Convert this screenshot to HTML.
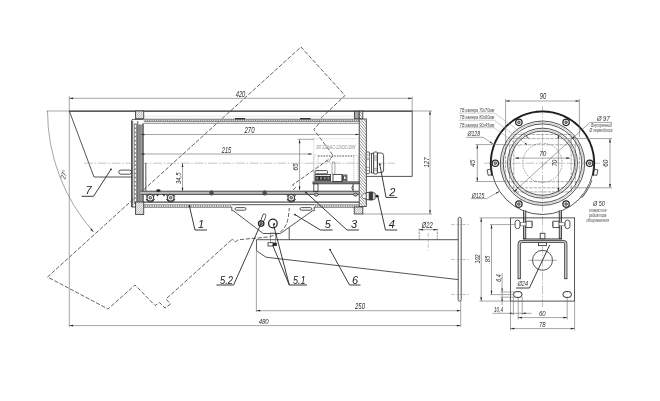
<!DOCTYPE html>
<html><head><meta charset="utf-8"><title>drawing</title>
<style>
html,body{margin:0;padding:0;background:#fff;}
svg{display:block;will-change:transform}
.t{stroke:#6a6a6a;stroke-width:.6;fill:none}
.vl{stroke:#d0d0d0;stroke-width:.5;fill:none}
.rd{stroke:#6a6a6a;stroke-width:.55;stroke-dasharray:3.5 1;fill:none}
.cd{stroke:#666;stroke-width:.6;stroke-dasharray:1.6 1;fill:none}
.tl{stroke:#9a9a9a;stroke-width:.5;fill:none}
.m{stroke:#363636;stroke-width:.85;fill:none}
.ld{stroke:#262626;stroke-width:.9;fill:none}
.m2{stroke:#2a2a2a;stroke-width:1;fill:none}
.wd{stroke:#fff;stroke-width:1.1;stroke-dasharray:1.3 .9;fill:none}
.wd2{stroke:#fff;stroke-width:1.5;stroke-dasharray:1.4 .9;fill:none}
.t2{stroke:#5a5a5a;stroke-width:.7;fill:none}
.k3{stroke:#444;stroke-width:1.2;fill:none}
.k{stroke:#242424;stroke-width:1.25;fill:none}
.k2{stroke:#1a1a1a;stroke-width:1.55;fill:none}
.gl{stroke:#808080;stroke-width:2;stroke-dasharray:2.4 1.2;fill:none}
.d{stroke:#5c5c5c;stroke-width:.95;stroke-dasharray:4.2 1.7;fill:none}
.kd{stroke:#5a5a5a;stroke-width:1.1;stroke-dasharray:1.7 1;fill:none}
.dt2{stroke:#888;stroke-width:.5;stroke-dasharray:1.2 .8;fill:none}
.dt{stroke:#9a9a9a;stroke-width:.5;stroke-dasharray:1 1;fill:none}
.c{stroke:#8a8a8a;stroke-width:.5;stroke-dasharray:9 1.6 1.6 1.6;fill:none}
.hd{stroke:#555;stroke-width:.6;stroke-dasharray:2.4 .8;fill:none}
.c2{stroke:#8a8a8a;stroke-width:.5;stroke-dasharray:4 1.5;fill:none}
.a{fill:#222;stroke:none}
text{font-family:"Liberation Sans",sans-serif;font-style:italic}
.tx{fill:#2a2a2a}
.txl{fill:#4a4a4a}
.txv{fill:#8a8a8a}
.lb{fill:#222}
</style></head><body>
<svg width="660" height="401" viewBox="0 0 660 401">
<defs>
<pattern id="h" width="1.6" height="1.6" patternUnits="userSpaceOnUse" patternTransform="rotate(45)"><rect width="1.6" height="1.6" fill="#fff"/><line x1="0" y1="0" x2="0" y2="1.6" stroke="#555" stroke-width=".7"/></pattern>
<pattern id="h2" width="2.1" height="2.1" patternUnits="userSpaceOnUse" patternTransform="rotate(-40)"><rect width="2.1" height="2.1" fill="#fff"/><line x1="0" y1="0" x2="0" y2="2.1" stroke="#444" stroke-width=".85"/></pattern>
</defs>
<polyline class="d" points="231.40,240.00 166.00,299.00 170.50,304.00 165.00,308.00 159.50,302.50 155.00,305.50 135.00,285.00 108.00,309.00 47.50,277.00 301.00,47.00 345.00,95.50 318.50,120.50 320.00,122.50 313.75,129.40 333.50,156.00 292.50,185.00 295.60,187.50 293.00,190.00 291.00,196.00"/>
<path class="d" d="M290,201 C289,212 288.5,220 286,225 C283,231 278,235 268,237 L240,239.6 L237.5,240.3 L235,242 L232.6,239.4 L231.4,240"/>
<path class="t" d="M47.5,111 A183,183 0 0 0 93.5,232"/>
<polygon class="a" points="93.50,232.00 90.37,229.69 91.65,228.57"/>
<line class="t" x1="46.50" y1="111.00" x2="69.30" y2="111.00"/>
<text class="tx" x="66.30" y="175.30" font-size="7.4" text-anchor="middle" transform="rotate(-72 66.30 175.30)" textLength="8.60" lengthAdjust="spacingAndGlyphs">27°</text>
<line class="t" x1="69.30" y1="98.30" x2="412.20" y2="98.30"/>
<polygon class="a" points="69.30,98.30 73.10,97.45 73.10,99.15"/>
<polygon class="a" points="412.20,98.30 408.40,99.15 408.40,97.45"/>
<text class="tx" x="240.50" y="96.80" font-size="8.2" text-anchor="middle" textLength="9.50" lengthAdjust="spacingAndGlyphs">420</text>
<line class="t" x1="69.30" y1="96.00" x2="69.30" y2="327.00"/>
<line class="t" x1="412.20" y1="96.50" x2="412.20" y2="111.00"/>
<line class="k" x1="69.30" y1="111.20" x2="412.20" y2="111.20"/>
<polyline class="m" points="69.30,111.00 94.00,177.00 132.00,177.00"/>
<polyline class="m" points="412.20,111.00 412.20,176.40 366.30,176.40"/>
<line class="vl" x1="143.75" y1="116.20" x2="354.50" y2="116.20"/>
<rect class="m" x="118.80" y="170.10" width="12.80" height="4.10" rx="2.05"/>
<rect class="m" x="135.60" y="111.00" width="8.15" height="7.75" style="fill:url(#h)"/>
<rect class="m" x="354.40" y="111.20" width="4.80" height="7.40" style="fill:#a8a8a8"/>
<rect class="m" x="359.20" y="111.20" width="3.60" height="7.80" style="fill:url(#h2)"/>
<rect x="143.75" y="118.7" width="215.5" height="3.2" fill="#808080"/>
<line class="wd" x1="143.75" y1="120.30" x2="359.30" y2="120.30"/>
<line class="t2" x1="143.75" y1="123.30" x2="359.30" y2="123.30"/>
<line class="k" x1="235.00" y1="118.70" x2="245.00" y2="118.70"/>
<line class="k" x1="300.00" y1="118.70" x2="310.60" y2="118.70"/>
<path class="m" d="M131.5,207 L131.5,121 Q131.5,119.4 133.2,119.4 L143.5,119.4"/>
<line class="m" x1="132.70" y1="121.00" x2="132.70" y2="207.00"/>
<line x1="135.4" y1="123.5" x2="135.4" y2="204" stroke="#8a8a8a" stroke-width="3.2"/>
<line x1="135.4" y1="125" x2="135.4" y2="203" stroke="#fff" stroke-width="1.3" stroke-dasharray="2.6 1.5"/>
<rect x="137.5" y="124.5" width="6" height="78.5" fill="#b4b4b4"/>
<line class="m" x1="137.75" y1="121.00" x2="137.75" y2="207.00"/>
<line class="t2" x1="139.30" y1="124.50" x2="139.30" y2="203.00"/>
<line class="t2" x1="140.90" y1="124.50" x2="140.90" y2="203.00"/>
<line class="k3" x1="143.00" y1="123.30" x2="143.00" y2="203.00"/>
<line class="m" x1="131.50" y1="207.00" x2="138.75" y2="207.00"/>
<line class="t" x1="140.60" y1="134.50" x2="359.30" y2="134.50"/>
<polygon class="a" points="140.60,134.50 144.40,133.65 144.40,135.35"/>
<polygon class="a" points="359.30,134.50 355.50,135.35 355.50,133.65"/>
<text class="tx" x="249.50" y="133.00" font-size="8.2" text-anchor="middle" textLength="10.00" lengthAdjust="spacingAndGlyphs">270</text>
<line class="t" x1="140.60" y1="154.00" x2="312.30" y2="154.00"/>
<polygon class="a" points="140.60,154.00 144.40,153.15 144.40,154.85"/>
<polygon class="a" points="312.30,154.00 308.50,154.85 308.50,153.15"/>
<text class="tx" x="226.50" y="152.70" font-size="8.2" text-anchor="middle" textLength="9.50" lengthAdjust="spacingAndGlyphs">215</text>
<line class="c" x1="84.00" y1="163.20" x2="395.00" y2="163.20"/>
<line class="t" x1="182.50" y1="163.20" x2="182.50" y2="191.50"/>
<polygon class="a" points="182.50,163.20 183.35,167.00 181.65,167.00"/>
<polygon class="a" points="182.50,191.50 181.65,187.70 183.35,187.70"/>
<text class="tx" x="181.30" y="178.20" font-size="8" text-anchor="middle" transform="rotate(-90 181.30 178.20)" textLength="11.50" lengthAdjust="spacingAndGlyphs">34,5</text>
<line class="m" x1="145.80" y1="163.00" x2="145.80" y2="191.50"/>
<line class="t" x1="299.60" y1="139.50" x2="299.60" y2="190.30"/>
<polygon class="a" points="299.60,139.50 300.45,143.30 298.75,143.30"/>
<polygon class="a" points="299.60,190.30 298.75,186.50 300.45,186.50"/>
<line class="t" x1="297.50" y1="139.30" x2="314.00" y2="139.30"/>
<text class="tx" x="298.20" y="167.00" font-size="8" text-anchor="middle" transform="rotate(-90 298.20 167.00)" textLength="7.00" lengthAdjust="spacingAndGlyphs">65</text>
<rect class="dt" x="313.80" y="138.60" width="45.20" height="43.20"/>
<text class="txv" x="316.50" y="148.60" font-size="5" text-anchor="start" textLength="38.80" lengthAdjust="spacingAndGlyphs">БП 220VAC-12VDC/10W</text>
<polyline class="t" points="325.90,159.80 328.30,162.20 330.60,159.00"/>
<line class="kd" x1="318.00" y1="156.00" x2="354.00" y2="156.00"/>
<rect x="140.6" y="191" width="218.7" height="3.6" fill="#bcbcbc"/>
<line class="m" x1="140.60" y1="191.20" x2="359.30" y2="191.20"/>
<line class="m" x1="140.60" y1="194.40" x2="359.30" y2="194.40"/>
<path class="m2" d="M146.0,199 A4.6,4.6 0 0 0 154.60000000000002,199"/>
<line class="m" x1="146.00" y1="194.40" x2="146.70" y2="196.50"/>
<line class="m" x1="154.60" y1="194.40" x2="153.90" y2="196.50"/>
<circle class="k3" cx="150.30" cy="197.70" r="3.30" style="fill:#fff"/>
<circle class="m" cx="150.30" cy="197.70" r="1.30" style="fill:#bbb"/>
<path class="m2" d="M166.39999999999998,199 A4.6,4.6 0 0 0 175.0,199"/>
<line class="m" x1="166.40" y1="194.40" x2="167.10" y2="196.50"/>
<line class="m" x1="175.00" y1="194.40" x2="174.30" y2="196.50"/>
<circle class="k3" cx="170.70" cy="197.70" r="3.30" style="fill:#fff"/>
<circle class="m" cx="170.70" cy="197.70" r="1.30" style="fill:#bbb"/>
<path class="m2" d="M286.95,199 A4.6,4.6 0 0 0 295.55,199"/>
<line class="m" x1="286.95" y1="194.40" x2="287.65" y2="196.50"/>
<line class="m" x1="295.55" y1="194.40" x2="294.85" y2="196.50"/>
<circle class="k3" cx="291.25" cy="197.70" r="3.30" style="fill:#fff"/>
<circle class="m" cx="291.25" cy="197.70" r="1.30" style="fill:#bbb"/>
<polygon class="a" points="156.00,194.40 159.00,194.40 157.50,196.60"/>
<polygon class="a" points="162.50,194.40 165.50,194.40 164.00,196.60"/>
<ellipse cx="211.5" cy="192.9" rx="2.2" ry="2.6" fill="#4a4a4a"/>
<ellipse cx="264.7" cy="192.9" rx="2.2" ry="2.6" fill="#4a4a4a"/>
<ellipse class="a" cx="158.4" cy="190.6" rx="2.2" ry="1.3"/>
<ellipse class="m" cx="316.2" cy="194.6" rx="2" ry="1.5" style="fill:#bbb"/>
<ellipse class="m" cx="355.5" cy="194.6" rx="2" ry="1.5" style="fill:#bbb"/>
<line class="k3" x1="143.50" y1="202.20" x2="359.30" y2="202.20"/>
<rect x="138.75" y="204.3" width="220.5" height="3.5" fill="#808080"/>
<line class="wd2" x1="138.75" y1="206.00" x2="359.30" y2="206.00"/>
<rect class="m" x="135.60" y="202.00" width="8.15" height="12.40" style="fill:url(#h)"/>
<rect x="231.8" y="202.9" width="82.4" height="5.1" fill="#fff"/>
<rect class="m" x="354.20" y="207.00" width="8.60" height="7.00" style="fill:url(#h)"/>
<rect class="m" x="359.20" y="119.00" width="7.10" height="87.40" style="fill:url(#h2)"/>
<rect class="m" x="366.20" y="152.00" width="3.40" height="21.60" rx="1" style="fill:#fff"/>
<line class="t" x1="366.20" y1="155.00" x2="369.60" y2="155.00"/>
<line class="t" x1="366.20" y1="158.00" x2="369.60" y2="158.00"/>
<line class="t" x1="366.20" y1="159.60" x2="369.60" y2="159.60"/>
<line class="t" x1="366.20" y1="167.40" x2="369.60" y2="167.40"/>
<line class="t" x1="366.20" y1="170.40" x2="369.60" y2="170.40"/>
<rect class="t" x="369.60" y="154.00" width="2.00" height="18.00" style="fill:#fff"/>
<rect class="m" x="371.60" y="153.30" width="2.10" height="19.70" style="fill:#fff"/>
<rect class="m" x="373.70" y="152.00" width="3.70" height="22.00" rx="1" style="fill:#fff"/>
<line class="t" x1="373.70" y1="156.00" x2="377.40" y2="156.00"/>
<line class="t" x1="373.70" y1="158.00" x2="377.40" y2="158.00"/>
<line class="t" x1="373.70" y1="160.00" x2="377.40" y2="160.00"/>
<line class="t" x1="373.70" y1="168.40" x2="377.40" y2="168.40"/>
<line class="t" x1="373.70" y1="170.20" x2="377.40" y2="170.20"/>
<path class="m" d="M377.4,153 L381.4,153 Q383.6,153 383.6,155.6 L383.6,170 Q383.6,172.6 381.4,172.6 L377.4,172.6 Z"/>
<polygon class="m" points="361.60,196.20 363.50,194.00 366.20,194.00 366.20,198.50 363.50,198.50"/>
<polygon points="361.9,196.2 363.6,194.3 366.2,194.3 366.2,198.2 363.6,198.2" fill="#fff"/>
<rect class="m" x="366.20" y="192.60" width="3.10" height="7.10" style="fill:#fff"/>
<rect class="m" x="369.30" y="192.00" width="3.30" height="8.00" style="fill:#3a3a3a"/>
<rect class="m" x="372.60" y="192.80" width="2.60" height="6.60" rx="1" style="fill:#eee"/>
<circle class="a" cx="377" cy="196.2" r="1.4"/>
<rect class="m" x="313.00" y="181.90" width="46.20" height="1.90" style="fill:#999"/>
<rect class="m" x="313.80" y="183.80" width="4.20" height="7.70"/>
<path class="dt2" d="M313.8,182 L313.8,156.5 Q313.8,155 315.9,155 Q318,155 318,156.5 L318,182"/>
<path class="dt2" d="M353.8,182 L353.8,156.5 Q353.8,155 355.9,155 Q358,155 358,156.5 L358,182"/>
<rect class="m" x="315.00" y="170.60" width="12.50" height="3.20" rx="0.8"/>
<rect class="m" x="315.00" y="174.40" width="15.60" height="6.40"/>
<rect class="m2" x="315.80" y="176.40" width="2.90" height="3.60" style="fill:#888"/>
<rect class="m2" x="319.50" y="176.40" width="2.90" height="3.60" style="fill:#888"/>
<rect class="m2" x="323.20" y="176.40" width="2.90" height="3.60" style="fill:#888"/>
<rect class="m2" x="326.90" y="176.40" width="2.90" height="3.60" style="fill:#888"/>
<rect class="t" x="332.00" y="162.00" width="2.90" height="12.40" rx="1"/>
<rect class="m" x="333.00" y="174.40" width="8.90" height="7.20"/>
<rect class="m" x="342.50" y="175.00" width="4.40" height="5.80"/>
<rect class="m" x="343.40" y="176.00" width="2.60" height="3.60"/>
<line class="m" x1="353.10" y1="183.80" x2="353.10" y2="191.50"/>
<path class="m" d="M353.1,185.6 Q350.2,187.8 353.1,190"/>
<line class="t" x1="430.00" y1="111.00" x2="430.00" y2="214.00"/>
<polygon class="a" points="430.00,111.00 430.85,114.80 429.15,114.80"/>
<polygon class="a" points="430.00,214.00 429.15,210.20 430.85,210.20"/>
<line class="t" x1="412.20" y1="111.00" x2="432.00" y2="111.00"/>
<line class="t" x1="362.80" y1="214.00" x2="432.00" y2="214.00"/>
<text class="tx" x="428.60" y="162.50" font-size="8" text-anchor="middle" transform="rotate(-90 428.60 162.50)" textLength="10.00" lengthAdjust="spacingAndGlyphs">127</text>
<path class="m" d="M231.8,207 L231.8,210.7 L233.3,210.7 L263.2,233.5 L280.4,233.5 L312.6,210.7 L314.2,210.7 L314.2,207"/>
<line class="m" x1="231.80" y1="204.70" x2="314.20" y2="204.70"/>
<rect class="m" x="235.00" y="207.60" width="11.00" height="2.60" rx="1.3"/>
<rect class="m" x="300.00" y="207.60" width="11.80" height="2.60" rx="1.3"/>
<line x1="261.2" y1="223.5" x2="264.4" y2="215.6" stroke="#3c3c3c" stroke-width="3.9" stroke-linecap="round"/>
<line x1="261.2" y1="223.5" x2="264.4" y2="215.6" stroke="#fff" stroke-width="2.4" stroke-linecap="round"/>
<circle class="k" cx="261.20" cy="223.60" r="2.70" style="fill:#fff"/>
<circle class="m" cx="261.20" cy="223.60" r="1.20" style="fill:#777"/>
<circle class="k" cx="272.90" cy="223.50" r="4.30" style="fill:#fff"/>
<circle class="a" cx="274.2" cy="224" r="0.9"/>
<polyline class="m" points="458.20,239.70 256.50,239.70 256.50,250.80 266.00,257.20 458.20,279.60"/>
<line class="m" x1="289.20" y1="227.40" x2="289.20" y2="239.50"/>
<rect class="t" x="270.50" y="233.00" width="5.20" height="10.00"/>
<rect class="m" x="268.00" y="242.70" width="5.00" height="3.30" style="fill:#fff"/>
<rect class="a" x="273.00" y="242.80" width="3.80" height="3.10"/>
<rect class="m" x="458.20" y="217.30" width="3.00" height="83.90" rx="1.4" style="fill:#fff"/>
<line class="c2" x1="451.00" y1="224.50" x2="469.00" y2="224.50"/>
<line class="c2" x1="451.00" y1="259.50" x2="469.00" y2="259.50"/>
<line class="c2" x1="451.00" y1="294.50" x2="469.00" y2="294.50"/>
<line class="t" x1="419.20" y1="229.70" x2="437.30" y2="229.70"/>
<polygon class="a" points="419.20,229.70 423.00,228.85 423.00,230.55"/>
<polygon class="a" points="437.30,229.70 433.50,230.55 433.50,228.85"/>
<line class="hd" x1="419.20" y1="228.50" x2="419.20" y2="239.70"/>
<line class="hd" x1="437.30" y1="228.50" x2="437.30" y2="239.70"/>
<line class="c2" x1="428.20" y1="233.00" x2="428.20" y2="250.50"/>
<text class="tx" x="427.30" y="227.70" font-size="8.2" text-anchor="middle" textLength="11.00" lengthAdjust="spacingAndGlyphs">Ø22</text>
<line class="t" x1="256.40" y1="310.70" x2="460.70" y2="310.70"/>
<polygon class="a" points="256.40,310.70 260.20,309.85 260.20,311.55"/>
<polygon class="a" points="460.70,310.70 456.90,311.55 456.90,309.85"/>
<text class="tx" x="360.00" y="309.30" font-size="8.2" text-anchor="middle" textLength="10.00" lengthAdjust="spacingAndGlyphs">250</text>
<line class="t" x1="256.40" y1="239.50" x2="256.40" y2="312.00"/>
<line class="t" x1="460.70" y1="301.20" x2="460.70" y2="327.00"/>
<line class="t" x1="69.30" y1="325.60" x2="460.70" y2="325.60"/>
<polygon class="a" points="69.30,325.60 73.10,324.75 73.10,326.45"/>
<polygon class="a" points="460.70,325.60 456.90,326.45 456.90,324.75"/>
<text class="tx" x="263.70" y="323.90" font-size="7.8" text-anchor="middle" textLength="10.00" lengthAdjust="spacingAndGlyphs">480</text>
<text class="lb" x="88.50" y="194.30" font-size="11" text-anchor="middle">7</text>
<line class="ld" x1="81.50" y1="196.30" x2="93.50" y2="196.30"/>
<line class="ld" x1="93.50" y1="196.30" x2="111.00" y2="169.30"/>
<circle class="a" cx="111" cy="169.3" r="0.9"/>
<text class="lb" x="201.00" y="228.30" font-size="11" text-anchor="middle">1</text>
<line class="ld" x1="195.00" y1="230.00" x2="207.00" y2="230.00"/>
<line class="ld" x1="195.00" y1="230.00" x2="189.40" y2="206.00"/>
<circle class="a" cx="189.4" cy="206" r="0.9"/>
<text class="lb" x="327.70" y="228.30" font-size="11" text-anchor="middle">5</text>
<line class="ld" x1="320.40" y1="230.00" x2="332.60" y2="230.00"/>
<line class="ld" x1="320.40" y1="230.00" x2="295.00" y2="214.60"/>
<circle class="a" cx="295" cy="214.6" r="0.9"/>
<text class="lb" x="354.00" y="228.30" font-size="11" text-anchor="middle">3</text>
<line class="ld" x1="347.00" y1="230.00" x2="359.00" y2="230.00"/>
<line class="ld" x1="347.00" y1="230.00" x2="306.00" y2="192.50"/>
<circle class="a" cx="306" cy="192.5" r="0.9"/>
<text class="lb" x="391.80" y="228.30" font-size="11" text-anchor="middle">4</text>
<line class="ld" x1="385.50" y1="230.00" x2="397.30" y2="230.00"/>
<line class="ld" x1="385.50" y1="230.00" x2="377.80" y2="196.30"/>
<circle class="a" cx="377.8" cy="196.3" r="0.9"/>
<text class="lb" x="392.40" y="195.60" font-size="11" text-anchor="middle">2</text>
<line class="ld" x1="386.00" y1="197.40" x2="397.30" y2="197.40"/>
<line class="ld" x1="386.00" y1="197.40" x2="379.80" y2="164.30"/>
<circle class="a" cx="379.8" cy="164.3" r="0.9"/>
<text class="lb" x="226.50" y="283.50" font-size="11" text-anchor="middle" textLength="13.00" lengthAdjust="spacingAndGlyphs">5.2</text>
<line class="ld" x1="216.40" y1="285.00" x2="233.60" y2="285.00"/>
<line class="ld" x1="233.60" y1="285.00" x2="260.60" y2="224.50"/>
<text class="lb" x="299.30" y="283.50" font-size="11" text-anchor="middle" textLength="12.60" lengthAdjust="spacingAndGlyphs">5.1</text>
<line class="ld" x1="289.30" y1="285.00" x2="307.00" y2="285.00"/>
<line class="ld" x1="289.30" y1="285.00" x2="273.30" y2="224.00"/>
<line class="ld" x1="289.30" y1="285.00" x2="272.60" y2="245.00"/>
<text class="lb" x="355.00" y="283.50" font-size="11" text-anchor="middle">6</text>
<line class="ld" x1="349.50" y1="285.00" x2="360.50" y2="285.00"/>
<line class="ld" x1="349.50" y1="285.00" x2="330.00" y2="249.60"/>
<circle class="a" cx="330" cy="249.6" r="0.9"/>
<line class="c" x1="542.50" y1="106.00" x2="542.50" y2="307.00"/>
<line class="c" x1="484.00" y1="163.20" x2="600.00" y2="163.20"/>
<rect class="rd" x="513.80" y="134.50" width="57.40" height="57.40"/>
<rect class="rd" x="509.70" y="138.60" width="65.60" height="49.20"/>
<rect class="rd" x="505.60" y="144.75" width="73.80" height="36.90"/>
<circle class="cd" cx="542.50" cy="162.80" r="19.60"/>
<circle class="m" cx="542.50" cy="163.20" r="51.30"/>
<circle class="m" cx="542.50" cy="163.20" r="42.20"/>
<circle class="tl" cx="542.50" cy="163.20" r="40.70"/>
<circle class="m" cx="542.50" cy="163.20" r="39.30"/>
<circle class="m" cx="542.50" cy="163.20" r="35.00"/>
<circle class="tl" cx="542.50" cy="163.20" r="33.50"/>
<circle class="m" cx="542.50" cy="163.20" r="32.10"/>
<path class="k2" d="M492.14,175.76 A51.9,51.9 0 1 1 592.86,175.76"/>
<polyline class="m" points="491.00,169.00 487.10,169.90 488.20,175.40 492.10,174.60"/>
<polyline class="m" points="594.00,169.00 597.90,169.90 596.80,175.40 592.90,174.60"/>
<path d="M591.38,180.03 A51.7,51.7 0 0 1 581.22,197.46" fill="none" stroke="#444" stroke-width="2"/>
<path d="M591.38,180.03 A51.7,51.7 0 0 1 581.22,197.46" fill="none" stroke="#fff" stroke-width=".7"/>
<circle class="k" cx="589.70" cy="163.20" r="3.20" style="fill:#fff"/>
<circle class="m" cx="589.70" cy="163.20" r="1.30" style="fill:#aaa"/>
<circle class="k" cx="566.10" cy="204.08" r="3.20" style="fill:#fff"/>
<circle class="m" cx="566.10" cy="204.08" r="1.30" style="fill:#aaa"/>
<circle class="k" cx="518.90" cy="204.08" r="3.20" style="fill:#fff"/>
<circle class="m" cx="518.90" cy="204.08" r="1.30" style="fill:#aaa"/>
<circle class="k" cx="495.30" cy="163.20" r="3.20" style="fill:#fff"/>
<circle class="m" cx="495.30" cy="163.20" r="1.30" style="fill:#aaa"/>
<circle class="k" cx="518.90" cy="122.32" r="3.20" style="fill:#fff"/>
<circle class="m" cx="518.90" cy="122.32" r="1.30" style="fill:#aaa"/>
<circle class="k" cx="566.10" cy="122.32" r="3.20" style="fill:#fff"/>
<circle class="m" cx="566.10" cy="122.32" r="1.30" style="fill:#aaa"/>
<line class="t" x1="505.60" y1="101.00" x2="579.40" y2="101.00"/>
<polygon class="a" points="505.60,101.00 509.40,100.15 509.40,101.85"/>
<polygon class="a" points="579.40,101.00 575.60,101.85 575.60,100.15"/>
<text class="tx" x="543.00" y="99.20" font-size="8.2" text-anchor="middle" textLength="6.40" lengthAdjust="spacingAndGlyphs">90</text>
<line class="t" x1="505.60" y1="99.00" x2="505.60" y2="145.00"/>
<line class="t" x1="579.40" y1="99.00" x2="579.40" y2="137.00"/>
<line class="t" x1="514.80" y1="158.10" x2="570.20" y2="158.10"/>
<polygon class="a" points="514.80,158.10 518.60,157.25 518.60,158.95"/>
<polygon class="a" points="570.20,158.10 566.40,158.95 566.40,157.25"/>
<text class="tx" x="542.80" y="156.30" font-size="8" text-anchor="middle" textLength="7.00" lengthAdjust="spacingAndGlyphs">70</text>
<text class="tx" x="557.30" y="163.00" font-size="7.4" text-anchor="middle" transform="rotate(-90 557.30 163.00)" textLength="6.40" lengthAdjust="spacingAndGlyphs">70</text>
<line class="t" x1="558.40" y1="134.50" x2="558.40" y2="191.90"/>
<polygon class="a" points="558.40,134.50 559.25,138.30 557.55,138.30"/>
<polygon class="a" points="558.40,191.90 557.55,188.10 559.25,188.10"/>
<line class="t" x1="477.30" y1="144.60" x2="477.30" y2="181.50"/>
<polygon class="a" points="477.30,144.60 478.15,148.40 476.45,148.40"/>
<polygon class="a" points="477.30,181.50 476.45,177.70 478.15,177.70"/>
<line class="t" x1="475.50" y1="144.60" x2="505.60" y2="144.60"/>
<line class="t" x1="475.50" y1="181.50" x2="505.60" y2="181.50"/>
<text class="tx" x="475.40" y="163.20" font-size="8" text-anchor="middle" transform="rotate(-90 475.40 163.20)" textLength="7.00" lengthAdjust="spacingAndGlyphs">45</text>
<line class="t" x1="610.00" y1="138.60" x2="610.00" y2="187.80"/>
<polygon class="a" points="610.00,138.60 610.85,142.40 609.15,142.40"/>
<polygon class="a" points="610.00,187.80 609.15,184.00 610.85,184.00"/>
<line class="t" x1="575.30" y1="138.60" x2="612.00" y2="138.60"/>
<line class="t" x1="575.30" y1="187.80" x2="612.00" y2="187.80"/>
<text class="tx" x="608.20" y="163.20" font-size="8" text-anchor="middle" transform="rotate(-90 608.20 163.20)" textLength="7.00" lengthAdjust="spacingAndGlyphs">60</text>
<line class="t" x1="590.00" y1="122.40" x2="612.00" y2="122.40"/>
<line class="t" x1="590.00" y1="122.40" x2="513.90" y2="191.80"/>
<polygon class="a" points="571.30,139.30 573.56,136.13 574.69,137.39"/>
<polygon class="a" points="513.90,191.80 516.16,188.63 517.29,189.89"/>
<text class="tx" x="603.30" y="120.60" font-size="8" text-anchor="middle" textLength="12.70" lengthAdjust="spacingAndGlyphs">Ø 97</text>
<text class="txl" x="601.50" y="127.20" font-size="4.8" text-anchor="middle" textLength="21.00" lengthAdjust="spacingAndGlyphs">Внутренний</text>
<text class="txl" x="601.00" y="131.90" font-size="4.8" text-anchor="middle" textLength="23.00" lengthAdjust="spacingAndGlyphs">Ø гермобокса</text>
<text class="txl" x="459.75" y="111.90" font-size="5" text-anchor="start" textLength="34.60" lengthAdjust="spacingAndGlyphs">ТВ камера 70х70мм</text>
<line class="tl" x1="459.00" y1="113.10" x2="494.40" y2="113.10"/>
<text class="txl" x="459.75" y="119.00" font-size="5" text-anchor="start" textLength="34.60" lengthAdjust="spacingAndGlyphs">ТВ камера 80х60мм</text>
<line class="tl" x1="459.00" y1="120.20" x2="494.40" y2="120.20"/>
<text class="txl" x="459.75" y="126.50" font-size="5" text-anchor="start" textLength="34.60" lengthAdjust="spacingAndGlyphs">ТВ камера 90х45мм</text>
<line class="tl" x1="459.00" y1="127.70" x2="494.40" y2="127.70"/>
<line class="tl" x1="494.40" y1="113.10" x2="529.00" y2="138.40"/>
<polygon class="a" points="529.00,138.40 526.22,137.12 526.93,136.15"/>
<line class="tl" x1="494.40" y1="120.25" x2="527.60" y2="145.00"/>
<polygon class="a" points="527.60,145.00 524.82,143.72 525.53,142.75"/>
<line class="tl" x1="494.40" y1="127.75" x2="520.00" y2="146.50"/>
<text class="tx" x="473.80" y="136.20" font-size="7.6" text-anchor="middle" textLength="12.50" lengthAdjust="spacingAndGlyphs">Ø128</text>
<line class="t" x1="466.25" y1="137.30" x2="483.00" y2="137.30"/>
<line class="t" x1="483.00" y1="137.30" x2="493.00" y2="143.90"/>
<polygon class="a" points="493.00,143.90 489.68,142.58 490.45,141.41"/>
<text class="tx" x="478.00" y="197.60" font-size="7.6" text-anchor="middle" textLength="12.50" lengthAdjust="spacingAndGlyphs">Ø125</text>
<line class="t" x1="471.00" y1="198.60" x2="486.70" y2="198.60"/>
<line class="t" x1="486.70" y1="198.60" x2="499.30" y2="191.40"/>
<polygon class="a" points="499.30,191.40 496.62,193.76 495.92,192.54"/>
<text class="tx" x="598.80" y="206.30" font-size="8" text-anchor="middle" textLength="11.70" lengthAdjust="spacingAndGlyphs">Ø 50</text>
<text class="txl" x="597.70" y="212.40" font-size="4.8" text-anchor="middle" textLength="17.50" lengthAdjust="spacingAndGlyphs">отверстие</text>
<text class="txl" x="597.70" y="217.00" font-size="4.8" text-anchor="middle" textLength="17.50" lengthAdjust="spacingAndGlyphs">радиатора</text>
<text class="txl" x="597.70" y="221.70" font-size="4.8" text-anchor="middle" textLength="22.50" lengthAdjust="spacingAndGlyphs">обогревателя</text>
<line x1="524.6" y1="210.5" x2="524.6" y2="239" stroke="#333" stroke-width="3.2"/>
<line x1="524.6" y1="210.5" x2="524.6" y2="238.4" stroke="#bdbdbd" stroke-width="1.5"/>
<line x1="560.4" y1="210.5" x2="560.4" y2="239" stroke="#333" stroke-width="3.2"/>
<line x1="560.4" y1="210.5" x2="560.4" y2="238.4" stroke="#bdbdbd" stroke-width="1.5"/>
<line class="m2" x1="523.00" y1="239.00" x2="562.00" y2="239.00"/>
<rect class="m" x="510.50" y="217.90" width="64.10" height="83.20"/>
<path d="M519.2,278.7 L519.2,244.3 Q519.2,241.5 522,241.5 L563,241.5 Q565.8,241.5 565.8,244.3 L565.8,278.7" fill="none" stroke="#3a3a3a" stroke-width="3.2"/>
<path d="M519.2,278.7 L519.2,244.3 Q519.2,241.5 522,241.5 L563,241.5 Q565.8,241.5 565.8,244.3 L565.8,278.7" fill="none" stroke="#c8c8c8" stroke-width="1.6"/>
<line class="m" x1="517.60" y1="278.70" x2="520.80" y2="278.70"/>
<line class="m" x1="564.20" y1="278.70" x2="567.40" y2="278.70"/>
<rect class="t" x="520.50" y="222.60" width="12.00" height="3.20" style="fill:#fff"/>
<rect class="m" x="515.10" y="220.20" width="4.80" height="8.40" rx="2.2" style="fill:#fff"/>
<rect class="m" x="526.00" y="221.20" width="6.00" height="6.40" style="fill:#fff"/>
<rect class="t" x="552.50" y="222.60" width="12.00" height="3.20" style="fill:#fff"/>
<rect class="m" x="565.10" y="220.20" width="4.80" height="8.40" rx="2.2" style="fill:#fff"/>
<rect class="m" x="553.00" y="221.20" width="6.00" height="6.40" style="fill:#fff"/>
<rect class="m" x="540.20" y="233.30" width="4.70" height="5.45" style="fill:#fff"/>
<rect class="m" x="538.50" y="242.70" width="8.00" height="2.90" style="fill:#fff"/>
<circle class="m" cx="542.50" cy="260.30" r="10.00"/>
<line class="t" x1="528.50" y1="260.30" x2="556.50" y2="260.30"/>
<line class="ld" x1="549.70" y1="245.00" x2="529.40" y2="288.00"/>
<line class="ld" x1="516.00" y1="288.00" x2="529.40" y2="288.00"/>
<text class="tx" x="522.80" y="286.30" font-size="7.4" text-anchor="middle" textLength="10.50" lengthAdjust="spacingAndGlyphs">Ø24</text>
<rect class="m2" x="513.60" y="291.60" width="8.40" height="5.80" rx="2.8"/>
<rect class="m2" x="563.00" y="291.60" width="8.40" height="5.80" rx="2.8"/>
<line class="t" x1="481.20" y1="217.90" x2="481.20" y2="301.10"/>
<polygon class="a" points="481.20,217.90 482.05,221.70 480.35,221.70"/>
<polygon class="a" points="481.20,301.10 480.35,297.30 482.05,297.30"/>
<line class="t" x1="479.50" y1="217.90" x2="510.50" y2="217.90"/>
<line class="t" x1="479.50" y1="301.10" x2="510.50" y2="301.10"/>
<text class="tx" x="479.50" y="259.00" font-size="7.4" text-anchor="middle" transform="rotate(-90 479.50 259.00)" textLength="9.00" lengthAdjust="spacingAndGlyphs">102</text>
<line class="t" x1="491.50" y1="224.60" x2="491.50" y2="294.60"/>
<polygon class="a" points="491.50,224.60 492.35,228.40 490.65,228.40"/>
<polygon class="a" points="491.50,294.60 490.65,290.80 492.35,290.80"/>
<line class="t" x1="490.00" y1="224.60" x2="515.00" y2="224.60"/>
<line class="t" x1="490.00" y1="294.60" x2="513.30" y2="294.60"/>
<text class="tx" x="489.80" y="259.00" font-size="7.4" text-anchor="middle" transform="rotate(-90 489.80 259.00)" textLength="6.50" lengthAdjust="spacingAndGlyphs">85</text>
<line class="t" x1="502.10" y1="273.00" x2="502.10" y2="305.00"/>
<polygon class="a" points="502.10,292.00 501.40,288.50 502.80,288.50"/>
<polygon class="a" points="502.10,297.20 502.80,300.70 501.40,300.70"/>
<line class="t" x1="500.50" y1="292.00" x2="514.00" y2="292.00"/>
<line class="t" x1="500.50" y1="297.20" x2="514.00" y2="297.20"/>
<text class="tx" x="500.70" y="278.00" font-size="7.2" text-anchor="middle" transform="rotate(-90 500.70 278.00)" textLength="7.60" lengthAdjust="spacingAndGlyphs">6,4</text>
<line class="t" x1="492.40" y1="313.30" x2="531.70" y2="313.30"/>
<polygon class="a" points="513.40,313.30 509.90,314.00 509.90,312.60"/>
<polygon class="a" points="522.20,313.30 525.70,312.60 525.70,314.00"/>
<line class="t" x1="513.40" y1="297.00" x2="513.40" y2="315.00"/>
<line class="t" x1="522.20" y1="297.00" x2="522.20" y2="315.00"/>
<text class="tx" x="498.50" y="312.20" font-size="7.2" text-anchor="middle" textLength="9.00" lengthAdjust="spacingAndGlyphs">10,4</text>
<line class="t" x1="518.20" y1="317.60" x2="567.20" y2="317.60"/>
<polygon class="a" points="518.20,317.60 522.00,316.75 522.00,318.45"/>
<polygon class="a" points="567.20,317.60 563.40,318.45 563.40,316.75"/>
<text class="tx" x="542.30" y="316.00" font-size="7.6" text-anchor="middle" textLength="6.60" lengthAdjust="spacingAndGlyphs">60</text>
<line class="t" x1="518.20" y1="297.20" x2="518.20" y2="319.50"/>
<line class="t" x1="567.20" y1="297.20" x2="567.20" y2="319.50"/>
<line class="t" x1="510.50" y1="328.60" x2="574.60" y2="328.60"/>
<polygon class="a" points="510.50,328.60 514.30,327.75 514.30,329.45"/>
<polygon class="a" points="574.60,328.60 570.80,329.45 570.80,327.75"/>
<text class="tx" x="542.30" y="327.00" font-size="7.6" text-anchor="middle" textLength="6.60" lengthAdjust="spacingAndGlyphs">78</text>
<line class="t" x1="510.50" y1="301.10" x2="510.50" y2="330.50"/>
<line class="t" x1="574.60" y1="301.10" x2="574.60" y2="330.50"/>
</svg>
</body></html>
